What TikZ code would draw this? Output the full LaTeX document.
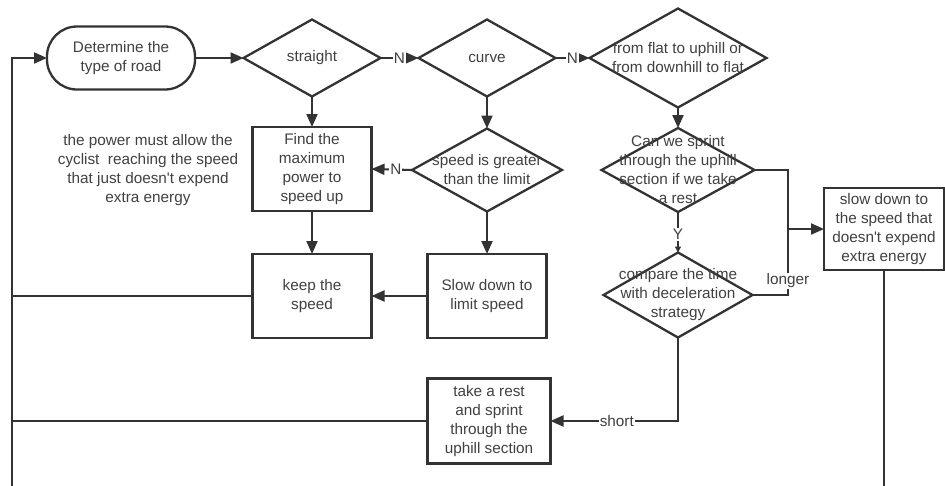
\documentclass[tikz,border=0pt]{standalone}
\usepackage{fontspec}
\setmainfont{Liberation Sans}[Ligatures=TeXOff]
\usetikzlibrary{shapes.geometric,arrows.meta,calc}
\definecolor{ln}{HTML}{333333}
\definecolor{tx}{HTML}{404040}
\begin{document}
\begin{tikzpicture}[x=1pt,y=-1pt,
  font=\fontsize{15.3}{19}\selectfont,
  every node/.style={text=tx},
  box/.style={draw=ln,line width=2.3pt,rectangle,minimum width=119pt,minimum height=84pt,inner sep=0pt,outer sep=0pt,align=center},
  term/.style={draw=ln,line width=2.3pt,rectangle,rounded corners=30pt,minimum width=148pt,minimum height=63pt,inner sep=0pt,outer sep=0pt,align=center},
  dia/.style={draw=ln,line width=2.3pt,diamond,inner sep=0pt,outer sep=0pt},
  lbl/.style={align=center,text=tx,inner sep=0pt},
  conn/.style={draw=ln,line width=2.1pt},
  arr/.style={conn,-{Triangle[length=13pt,width=11pt]}},
  elab/.style={fill=white,inner sep=1pt,text=tx}
]
\useasboundingbox (0,0) rectangle (945,485);

% nodes
\node[term] (det) at (121,58) {Determine the\\type of road};
\node[dia,minimum width=137pt,minimum height=77pt,label={[lbl]center:{straight}}] (str) at (312,58) {};
\node[dia,minimum width=137pt,minimum height=77pt,label={[lbl]center:{curve}}] (cur) at (487,58) {};
\node[dia,minimum width=177pt,minimum height=99pt,label={[lbl]center:{from flat to uphill or\\from downhill to flat}}] (fla) at (678,58) {};

\node[box] (find) at (312,169) {Find the\\maximum\\power to\\speed up};
\node[lbl] (note) at (148,170) {the power must allow the\\cyclist\ \ reaching the speed\\that just doesn't expend\\extra energy};
\node[box] (keep) at (312,296) {keep the\\speed};

\node[dia,minimum width=150pt,minimum height=83pt,label={[lbl]center:{speed is greater\\than the limit}}] (spd) at (487,170) {};
\node[box] (slow) at (487,296) {Slow down to\\limit speed};

\node[dia,minimum width=153pt,minimum height=84pt,label={[lbl]center:{Can we sprint\\through the uphill\\section if we take\\a rest}}] (can) at (678,170) {};
\node[dia,minimum width=149pt,minimum height=85pt,label={[lbl]center:{compare the time\\with deceleration\\strategy}}] (cmp) at (678,295) {};

\node[box,minimum width=120pt,minimum height=82pt] (sd) at (884,229) {slow down to\\the speed that\\doesn't expend\\extra energy};
\node[box,minimum width=123pt,minimum height=85pt] (rest) at (489,421) {take a rest\\and sprint\\through the\\uphill section};

\coordinate (jn) at (788,229);
\coordinate (loopL) at (12,495);
\coordinate (loopR) at (890,495);

% connectors
\draw[arr] (det.east) -- (str.west);
\draw[arr] (str.east) -- node[elab]{N} (cur.west);
\draw[arr] (cur.east) -- node[elab]{N} (fla.west);
\draw[arr] (str.south) -- (find.north);
\draw[arr] (find.south) -- (keep.north);
\draw[arr] (cur.south) -- (spd.north);
\draw[arr] (spd.west) -- node[elab,pos=0.4]{N} (find.east);
\draw[arr] (spd.south) -- (slow.north);
\draw[arr] (slow.west) -- (keep.west -| keep.east);
\draw[arr] (fla.south) -- (can.north);
\draw[draw=ln,line width=1.2pt,-{Triangle[length=6pt,width=6pt]}] (can.south) -- node[elab,pos=0.55]{Y} (cmp.north);
\draw[arr] (can.east) -| (jn) -- (sd.west);
\draw[conn] (cmp.east) -| (jn);
\node[elab] at (788,281) {longer};
\draw[arr] (cmp.south) |- node[elab,pos=0.74]{short} (rest.east);
\draw[conn] (keep.west) -- (keep.west -| loopL);
\draw[conn] (rest.west) -- (rest.west -| loopL);
\draw[conn] (sd.south) -- (sd.south |- loopR) -- (loopL);
\draw[arr] (loopL) |- (det.west);
\end{tikzpicture}
\end{document}
